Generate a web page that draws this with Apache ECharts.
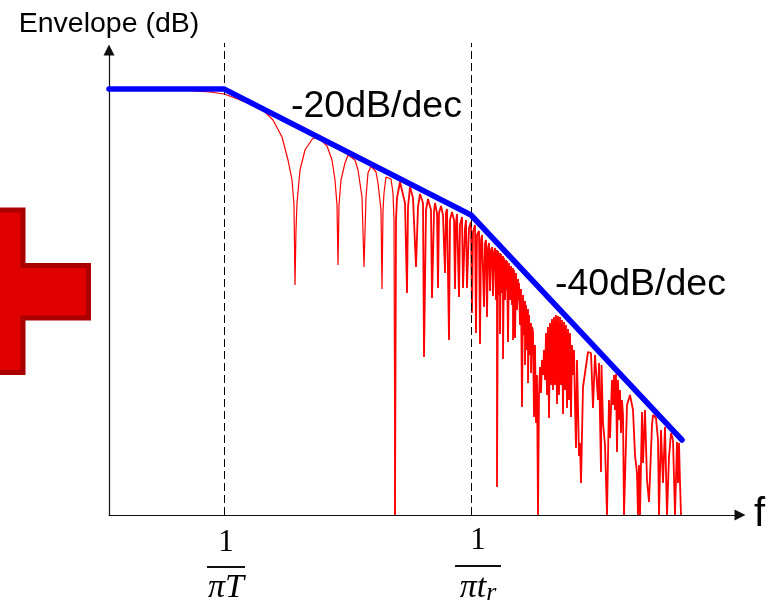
<!DOCTYPE html>
<html>
<head>
<meta charset="utf-8">
<style>html,body{margin:0;padding:0;background:#fff}#c{width:775px;height:606px}</style>
<script src="https://cdn.jsdelivr.net/npm/echarts@6/dist/echarts.min.js"></script>
</head>
<body>
<div id="c"></div>
<script>
const axisNameY = 'Envelope (dB)';
const axisNameX = 'f';
const slopeLabels = ['-20dB/dec', '-40dB/dec'];
const cornerFreqs = [115.5, 362.5];
const envelope = [[0,426],[115,426],[362,300],[573,75]];
const spectrumLow = [
[84,424],[101,423],[115,421],[126,417],[141,411],[156,403],[164,395],[173,378],[179,355],[183,335],[185,310],[186,230],[187,285],[188,312],[191,345],[196,365],[204,377],[211,376],[218,369],[223,355],[226,335],[228,310],[229,250],[230,310],[232,335],[236,352],[239,360],[246,355],[249,345],[253,318],[255,248],[257,318],[259,342],[262,349],[267,343],[269,332],[272,305],[273,226],[274,305],[275,322],[277,338],[282,336],[284,322],[285,295],[286,0]
];
const spectrumHigh = [
[286,0],[287,295],[288,317],[291,333],[296,312],[298,222],[299,308],[301,328],[304,317],[307,248],[308,248],[309,308],[311,321],[314,312],[315,158],[317,305],[319,316],[322,305],[323,217],[325,303],[326,312],[328,302],[329,227],[330,302],[332,309],[334,300],[336,242],[337,302],[338,306],[340,175],[341,295],[343,303],[345,295],[346,226],[347,293],[348,301],[350,218],[351,290],[353,298],[354,227],[356,287],[357,295],[358,227],[360,287],[362,293],[363,202],[364,283],[366,290],[367,182],[368,280],[370,284],[371,171],[372,275],[373,280],[375,208],[376,272],[377,275],[378,198],[379,267],[380,272],[381,224],[382,265],[383,268],[384,219],[385,263],
[386,267],[387,215],[388,265],[388,28],[389,264],[390,220],[391,262],[391,181],[392,261],[393,222],[394,259],[394,156],[395,257],[396,215],[397,255],[397,225],[398,254],[399,173],[400,252],[401,215],[402,249],[403,210],[404,247],[404,175],[405,245],[406,177],[407,242],[408,205],[409,236],[409,215],[410,232],[411,190],[412,226],[413,108],[414,220],[415,180],[416,214],[416,150],[417,210],[418,165],[419,206],[419,132],[420,200],[421,160],[422,192],[422,142],[423,188],[424,183],[425,98],[426,170],[427,92],[428,140],[429,0],
[430,120],[431,148],[432,122],[433,155],[434,140],[435,165],[436,135],[437,182],[438,120],[439,188],[440,97],[441,192],[442,130],[443,196],[444,125],[445,198],[446,130],[447,200],[448,111],[449,199],[450,120],[451,198],[452,130],[453,195],[454,101],[455,193],[456,125],[457,190],[458,107],[459,186],[460,115],[461,182],[462,98],[463,170],[464,140],[465,165],[466,110],[467,67],[468,155],[470,59],[471,72],[472,32],[474,128],[479,163],[482,162],[484,107],[486,160],[489,115],[490,152],[492,43],[492.5,150],[494,92],[496,70],[498,0],[500,115],[501,77],[503,135],[504,110],[505,140],[506,105],[507,141],[508,63],[509,135],[510,95],[511,125],[512,82],[513,115],[514,100],[515,0],
[518,110],[521,120],[523,122],[524,105],[526,60],[528,42],[529,0],[530,50],[531,0],[533,103],[534,52],[536,105],[538,35],[540,13],[543,90],[544,100],[547,97],[549,75],[550,0],[552,85],[554,32],[556,88],[558,0],[560,58],[562,82],[564,75],[566,0],[568,73],[569,32],[570,72],[571,33],[572,0]
];
const dashTop = 472;
const serif = '"Liberation Serif","DejaVu Serif",serif';
const sans = '"Liberation Sans",Arial,sans-serif';

const axisCommon = {
  type: 'value',
  splitLine: {show: false},
  axisTick: {show: false},
  axisLabel: {show: false},
  axisLine: {show: true, onZero: false, symbol: ['none', 'triangle'], symbolSize: [11, 11], lineStyle: {color: '#111', width: 1.2}}
};

const chart = echarts.init(document.getElementById('c'), null, {renderer: 'canvas'});
chart.setOption({
  animation: false,
  backgroundColor: '#fff',
  grid: {left: 109, right: 35, top: 50, bottom: 91},
  xAxis: Object.assign({}, axisCommon, {
    min: 0, max: 631,
    name: axisNameX, nameLocation: 'end', nameGap: 14,
    nameTextStyle: {fontFamily: sans, fontSize: 40, color: '#000', verticalAlign: 'middle', align: 'left', padding: [2, 0, 0, 0]}
  }),
  yAxis: Object.assign({}, axisCommon, {
    min: 0, max: 465,
    name: axisNameY, nameLocation: 'end', nameGap: 11,
    nameTextStyle: {fontFamily: sans, fontSize: 28.5, color: '#000', align: 'center', verticalAlign: 'bottom'}
  }),
  series: [
    {type: 'line', name: 'Spectrum (low)', data: spectrumLow, showSymbol: false, clip: false, z: 2,
      lineStyle: {color: '#ff0000', width: 1.2}},
    {type: 'line', name: 'Spectrum (high)', data: spectrumHigh, showSymbol: false, clip: false, z: 2,
      lineStyle: {color: '#ff0000', width: 1.8}},
    {type: 'line', name: 'corner 1', data: [[cornerFreqs[0], 0], [cornerFreqs[0], dashTop]], showSymbol: false, clip: false, z: 3,
      lineStyle: {color: '#000', width: 1, type: [8, 4]}},
    {type: 'line', name: 'corner 2', data: [[cornerFreqs[1], 0], [cornerFreqs[1], dashTop]], showSymbol: false, clip: false, z: 3,
      lineStyle: {color: '#000', width: 1, type: [8, 4]}},
    {type: 'line', name: 'Envelope', data: envelope, showSymbol: false, clip: false, z: 4,
      lineStyle: {color: '#0000ff', width: 5.5, cap: 'round', join: 'round'}}
  ],
  graphic: [
    {type: 'polygon', z: 1, shape: {points: [[-10,210],[23,210],[23,265.5],[88.5,265.5],[88.5,318],[23,318],[23,372.5],[-10,372.5]]},
      style: {fill: '#e00000', stroke: '#aa0000', lineWidth: 5}},
    {type: 'text', z: 5, x: 291, y: 107, style: {text: slopeLabels[0], font: '37.5px ' + sans, fill: '#000', verticalAlign: 'middle'}},
    {type: 'text', z: 5, x: 555, y: 285, style: {text: slopeLabels[1], font: '37.5px ' + sans, fill: '#000', verticalAlign: 'middle'}},
    {type: 'text', z: 5, x: 226, y: 543, style: {text: '1', font: '31px ' + serif, fill: '#000', align: 'center', verticalAlign: 'middle'}},
    {type: 'line', z: 5, shape: {x1: 207, y1: 567, x2: 245, y2: 567}, style: {stroke: '#111', lineWidth: 2}},
    {type: 'text', z: 5, x: 226, y: 588, style: {text: 'πT', font: 'italic 34px ' + serif, fill: '#000', align: 'center', verticalAlign: 'middle'}},
    {type: 'text', z: 5, x: 478, y: 541, style: {text: '1', font: '31px ' + serif, fill: '#000', align: 'center', verticalAlign: 'middle'}},
    {type: 'line', z: 5, shape: {x1: 455, y1: 566, x2: 501, y2: 566}, style: {stroke: '#111', lineWidth: 2}},
    {type: 'text', z: 5, x: 478, y: 588, style: {text: '{a|πt}{b|r}', align: 'center', verticalAlign: 'middle',
      rich: {a: {font: 'italic 34px ' + serif, fill: '#000'}, b: {font: 'italic 26px ' + serif, fill: '#000', verticalAlign: 'bottom', padding: [10, 0, 0, 0]}}}}
  ]
});
</script>
</body>
</html>
